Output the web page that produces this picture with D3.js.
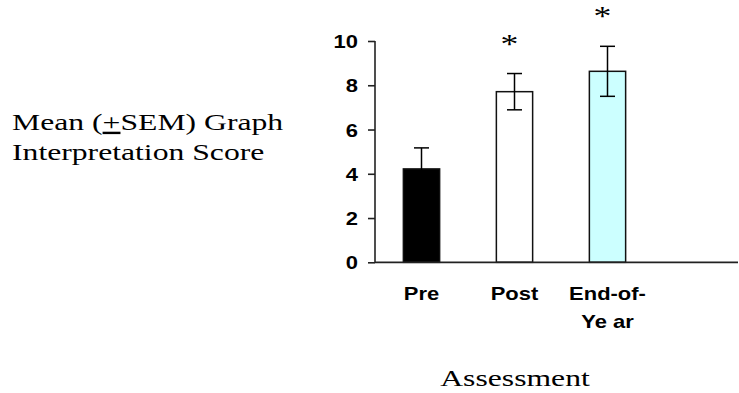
<!DOCTYPE html>
<html>
<head>
<meta charset="utf-8">
<script src="https://cdn.jsdelivr.net/npm/d3@7"></script>
<style>
  html, body { margin: 0; padding: 0; background: #fff; }
  svg { display: block; }
</style>
</head>
<body>
<svg id="chart" width="739" height="393"></svg>
<script>
// ---- data ----
const categories = ["Pre", "Post", "End-of-Year"];
const categoryLabelLines = [["Pre"], ["Post"], ["End-of-", "Ye ar"]];
const means = [4.22, 7.71, 8.63];
const sems = [0.95, 0.82, 1.13];
const significant = [false, true, true];
const barFills = ["#000000", "#ffffff", "#ccffff"];
const yTicks = [0, 2, 4, 6, 8, 10];
const yTitleLines = ["Mean (", "+", "SEM) Graph", "Interpretation Score"];
const xTitle = "Assessment";

// ---- layout ----
const svg = d3.select("#chart");
const SX_SERIF = 1.32, SX_SANS = 1.22;
const sans = "'Liberation Sans', Arial, sans-serif";
const serif = "'Liberation Serif', 'Times New Roman', serif";

const y = d3.scaleLinear().domain([0, 10]).range([262.3, 41]);
const x = d3.scaleBand().domain(categories).range([375, 654])
  .paddingInner(0.61).paddingOuter(0.305);

function stretchedText(g, px, py, str, opts) {
  const t = g.append("text")
    .attr("transform", `translate(${px},${py}) scale(${opts.sx},1)`)
    .attr("x", 0).attr("y", 0)
    .attr("font-family", opts.family)
    .attr("font-size", opts.size)
    .attr("font-weight", opts.weight || "normal")
    .attr("text-anchor", opts.anchor || "start")
    .attr("fill", "#000");
  if (str !== null) t.text(str);
  return t;
}

// y axis
const yAxis = d3.axisLeft(y).tickValues(yTicks).tickSize(7).tickFormat(d3.format("d"));
const gy = svg.append("g").attr("transform", "translate(375,0)").call(yAxis);
gy.select(".domain").attr("stroke", "#222").attr("stroke-width", 1.6)
  .attr("d", `M0,${y(10)}V${y(0)}`);
gy.selectAll(".tick line").attr("stroke", "#222").attr("stroke-width", 1.6);
gy.selectAll(".tick text").remove();
gy.selectAll(".tick").each(function(d) {
  stretchedText(d3.select(this), -17, 6.5, String(d),
    {sx: SX_SANS, family: sans, size: 18, weight: "bold", anchor: "end"});
});

// bars
svg.selectAll("rect.bar").data(categories).join("rect")
  .attr("class", "bar")
  .attr("x", d => x(d))
  .attr("width", x.bandwidth())
  .attr("y", (d, i) => y(means[i]))
  .attr("height", (d, i) => y(0) - y(means[i]))
  .attr("fill", (d, i) => barFills[i])
  .attr("stroke", "#111").attr("stroke-width", 1.5);

// error bars
const capHalf = 7.5;
const eg = svg.append("g").attr("stroke", "#000").attr("stroke-width", 1.5);
categories.forEach((c, i) => {
  const cx = x(c) + x.bandwidth() / 2;
  const hi = y(means[i] + sems[i]), lo = y(means[i] - sems[i]);
  eg.append("line").attr("x1", cx).attr("x2", cx).attr("y1", hi).attr("y2", lo);
  eg.append("line").attr("x1", cx - capHalf).attr("x2", cx + capHalf).attr("y1", hi).attr("y2", hi);
  eg.append("line").attr("x1", cx - capHalf).attr("x2", cx + capHalf).attr("y1", lo).attr("y2", lo);
  if (significant[i]) {
    stretchedText(svg, cx - 5, hi - 21, "*",
      {sx: SX_SERIF, family: serif, size: 27, anchor: "middle"});
  }
});

// x axis line
svg.append("line").attr("x1", 375).attr("x2", 738)
  .attr("y1", y(0)).attr("y2", y(0))
  .attr("stroke", "#222").attr("stroke-width", 1.8);

// category labels
categories.forEach((c, i) => {
  const cx = x(c) + x.bandwidth() / 2;
  categoryLabelLines[i].forEach((ln, j) => {
    stretchedText(svg, cx, 300 + j * 28, ln,
      {sx: SX_SANS, family: sans, size: 18, weight: "bold", anchor: "middle"});
  });
});

// y title
const t1 = stretchedText(svg, 12, 130, null, {sx: SX_SERIF, family: serif, size: 24});
t1.append("tspan").text(yTitleLines[0]);
t1.append("tspan").attr("text-decoration", "underline").text(yTitleLines[1]);
t1.append("tspan").text(yTitleLines[2]);
stretchedText(svg, 12, 160, yTitleLines[3], {sx: SX_SERIF, family: serif, size: 24});

// x title
stretchedText(svg, 515, 386, xTitle, {sx: SX_SERIF, family: serif, size: 24, anchor: "middle"});
</script>
</body>
</html>
